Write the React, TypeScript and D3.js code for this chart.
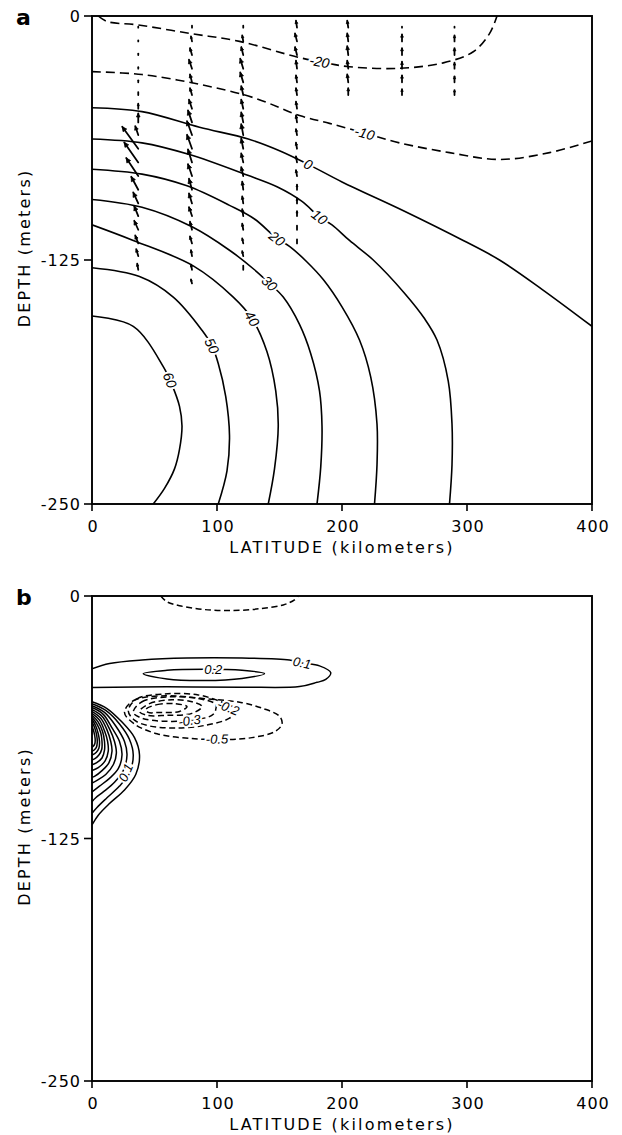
import React from "react";
import * as d3 from "d3";

type Pt = [number, number]; // [latitude km, depth m (negative)]

// ---------- axes ----------
const latTicks = [0, 100, 200, 300, 400];
const depthTicks = [0, -125, -250];

// ---------- panel a : contours ----------
const aM20: Pt[] = [[5, 0], [12, -2.8], [37, -4.6], [78, -8.9], [118, -13], [164, -21], [182, -23.4], [206, -26], [246, -26.8], [281, -24], [305, -18.3], [318, -9], [324, 0]];
const aM10: Pt[] = [[0, -28.5], [40, -30], [86, -35], [130, -42], [166, -51], [190, -55], [218, -60], [246, -65], [286, -70], [326, -73.5], [366, -70], [400, -64]];
const a0: Pt[] = [[0, -47], [40, -49], [86, -57], [125, -63], [150, -69], [173, -76], [200, -85], [250, -100], [297, -115], [326, -125], [360, -140], [400, -159]];
const a10: Pt[] = [[0, -63], [40, -65], [78, -71], [124, -81.5], [148, -87.5], [168, -95], [182, -103], [192, -107], [206, -115], [225, -125], [250, -142], [266, -155], [276, -166], [285, -187], [288, -209], [288, -230], [286, -250]];
const a20: Pt[] = [[0, -78.5], [40, -81], [76, -87], [110, -97], [130, -104], [148, -114], [158, -118], [172, -126], [185, -135], [200, -149], [214, -166], [223, -185], [228, -209], [228, -230], [226, -250]];
const a30: Pt[] = [[0, -94], [40, -98], [80, -108], [110, -120], [130, -130], [142, -137], [153, -144], [166, -158], [175, -173], [182, -192], [184, -210], [183, -231], [180, -250]];
const a40: Pt[] = [[0, -107], [33, -115], [81, -128], [113, -144], [128, -155], [140, -172], [147, -192], [149, -210], [146, -232], [141, -250]];
const a50: Pt[] = [[0, -129], [38, -133.5], [65, -144], [88, -161], [96, -169], [101, -178], [107, -195], [110, -215], [108, -233], [101, -250]];
const a60: Pt[] = [[0, -153.7], [33, -159], [57, -179.6], [64, -189], [70, -200], [72, -210], [70, -222], [66, -232], [58, -242], [49, -250]];

const aLines = [
  { pts: aM20, dashed: true, closed: false },
  { pts: aM10, dashed: true, closed: false },
  { pts: a0, dashed: false, closed: false },
  { pts: a10, dashed: false, closed: false },
  { pts: a20, dashed: false, closed: false },
  { pts: a30, dashed: false, closed: false },
  { pts: a40, dashed: false, closed: false },
  { pts: a50, dashed: false, closed: false },
  { pts: a60, dashed: false, closed: false },
];

const aLabels = [
  { text: "-20", at: [182, -23.4] as Pt, line: aM20 },
  { text: "-10", at: [218, -60] as Pt, line: aM10 },
  { text: "0", at: [173, -76] as Pt, line: a0 },
  { text: "10", at: [182, -103] as Pt, line: a10 },
  { text: "20", at: [148, -114] as Pt, line: a20 },
  { text: "30", at: [142, -137] as Pt, line: a30 },
  { text: "40", at: [128, -155] as Pt, line: a40 },
  { text: "50", at: [96, -169] as Pt, line: a50 },
  { text: "60", at: [62.4, -186.5] as Pt, line: a60 },
];

// ---------- panel a : velocity vectors (columns) ----------
const vecKm = [37, 80, 121, 164, 205, 248, 290];
const vecDepths = [-6, -13, -20, -27, -34, -40.5, -47.5, -54.5, -61, -68, -75, -82, -89, -96, -102.5, -109.5, -116.5, -123, -130, -137];
const vecCol1: Pt[] = [[0, 1], [0, 1], [0, 1.5], [0, 1.5], [0, 2], [0, 3], [0, 5], [0, 9], [-3, 9], [-16, 22], [-14, 20], [-12, 18], [-7, 13], [-5, 11], [-4, 10], [-4, 9], [-3, 8], [-2, 7], [-1, 6]];
const vecCol2: Pt[] = [[0, 2], [-1, 5], [-2, 7], [-3, 9], [-2, 8], [-2, 7], [-3, 9], [-4, 12], [-5, 14], [-5, 14], [-4, 13], [-4, 12], [-3, 11], [-3, 10], [-3, 9], [-2, 8], [-2, 7], [-1, 6], [-1, 5], [-1, 4]];
const vecCol3: Pt[] = [[0, 2], [-1, 6], [-2, 8], [-3, 10], [-3, 10], [-2, 9], [-2, 9], [-2, 10], [-2, 11], [-2, 10], [-2, 9], [-2, 9], [-1, 8], [-1, 7], [-1, 7], [-1, 6], [-1, 5], [-1, 5], [0, 4]];
const vecCol4: Pt[] = [[-1, 7], [-2, 8], [-2, 8], [-1, 8], [-1, 7], [-1, 7], [-1, 7], [-1, 7], [-1, 6], [-1, 6], [-1, 6], [-1, 6], [0, 5], [0, 5], [0, 5], [0, 4], [0, 4]];
const vecCol5: Pt[] = [[-1, 7], [-1, 8], [-1, 9], [-1, 8], [-1, 8], [0, 7]];
const vecCol6: Pt[] = [[0, 1], [0, 7], [0, 7], [0, 7], [0, 7], [0, 6]];
const vecCol7: Pt[] = [[0, 1], [0, 6], [0, 7], [0, 6], [0, 6], [0, 5]];
const vecCols = [vecCol1, vecCol2, vecCol3, vecCol4, vecCol5, vecCol6, vecCol7];

// ---------- panel b : contours ----------
const bTop: Pt[] = [[55, 0], [60, -3], [70, -5], [90, -7], [113, -7.5], [135, -6.5], [153, -4.6], [162, -2], [165, 0]];
const b01: Pt[] = [[0, -37.5], [14, -34.8], [40, -33], [76, -32], [120, -32], [158, -33], [168, -34.5], [182, -36], [191, -39.5], [187, -43], [180, -44.5], [166, -46.7], [120, -47], [60, -46.8], [0, -47.2]];
const b02: Pt[] = [[41, -40], [60, -38.3], [90, -37.8], [120, -38.3], [138, -40], [120, -42.5], [90, -43.6], [60, -42.8]];
const bN1: Pt[] = [[26, -60], [33, -54], [55, -51.5], [92, -53], [120, -55], [137, -58], [150, -62], [152, -66], [146, -70], [128, -73], [108, -74], [80, -73.5], [52, -71], [34, -66]];
const bN2: Pt[] = [[29, -59], [36, -53], [58, -50.5], [85, -51], [105, -55], [116, -59], [110, -63], [92, -66.5], [68, -68], [46, -67], [34, -64]];
const bN3: Pt[] = [[33, -60], [40, -54.5], [62, -52], [86, -53], [99, -56], [97, -61], [80, -64], [56, -64.5], [40, -63]];
const bN4: Pt[] = [[38, -59.5], [46, -55.5], [64, -53.5], [80, -54.5], [88, -57], [80, -60.5], [60, -61.5], [44, -61.5]];
const bN5: Pt[] = [[43, -58.5], [52, -56], [66, -55.5], [76, -57], [70, -59.5], [54, -60], [45, -60]];
const bB1: Pt[] = [[0, -54.5], [12, -58], [24, -65], [34, -73], [38, -82], [35, -92], [26, -100], [14, -107], [5, -113], [0, -118]];
const bB2: Pt[] = [[0, -55.5], [11, -59], [22, -66], [30, -74], [33, -82], [30, -91], [22, -98], [12, -104], [4, -109], [0, -112]];
const bB3: Pt[] = [[0, -56.5], [10, -60], [19, -67], [26, -75], [28, -82], [25, -90], [18, -96], [9, -101], [3, -104], [0, -106]];
const bB4: Pt[] = [[0, -57.5], [9, -61], [16, -68], [22, -75], [24, -82], [21, -89], [14, -94], [6, -98], [0, -101]];
const bB5: Pt[] = [[0, -58.5], [8, -62], [14, -68.5], [18, -75], [19.5, -81], [17, -87], [11, -92], [4, -95], [0, -96.5]];
const bB6: Pt[] = [[0, -59.5], [7, -63], [12, -69], [15, -75], [16, -80], [13.5, -86], [8, -90], [2, -93], [0, -93.5]];
const bB7: Pt[] = [[0, -60.5], [6, -64], [10, -69.5], [12.5, -75], [13, -80], [10.5, -85], [5, -88.5], [0, -90]];
const bB8: Pt[] = [[0, -61.5], [5, -65], [8.5, -70], [10, -75], [10, -79.5], [8, -83.5], [3.5, -86], [0, -87]];
const bB9: Pt[] = [[0, -62.5], [4, -66], [7, -70.5], [8, -75], [7.8, -79], [5.5, -82], [2, -84], [0, -84.5]];
const bB10: Pt[] = [[0, -63.5], [3, -67], [5, -71], [6, -75], [5.5, -78.5], [3.5, -80.5], [0, -82]];
const bB11: Pt[] = [[0, -65], [2.2, -68], [3.8, -72], [4.2, -75.5], [3.5, -78], [1.5, -79.5], [0, -80]];
const bB12: Pt[] = [[0, -67], [1.5, -70], [2.5, -73.5], [2.3, -76], [1, -77.5], [0, -78]];

const bLines = [
  { pts: bTop, dashed: true, closed: false },
  { pts: b01, dashed: false, closed: false },
  { pts: b02, dashed: false, closed: true },
  { pts: bN1, dashed: true, closed: true },
  { pts: bN2, dashed: true, closed: true },
  { pts: bN3, dashed: true, closed: true },
  { pts: bN4, dashed: true, closed: true },
  { pts: bN5, dashed: true, closed: true },
  ...[bB1, bB2, bB3, bB4, bB5, bB6, bB7, bB8, bB9, bB10, bB11, bB12].map((pts) => ({ pts, dashed: false, closed: false })),
];

const bLabels = [
  { text: "0.1", at: [168, -34.5] as Pt, line: b01 },
  { text: "0.2", at: [97, -37.9] as Pt, line: b02 },
  { text: "-0.2", at: [109, -57.5] as Pt, line: bN2 },
  { text: "-0.3", at: [78, -64.2] as Pt, line: bN3 },
  { text: "-0.5", at: [100, -73.8] as Pt, line: bN1 },
  { text: "0.1", at: [27, -91] as Pt, line: bB2 },
];

const X0 = 92;
const X1 = 592;
const tickFont = "'DejaVu Sans', 'Liberation Sans', sans-serif";
const labelFont = "'Liberation Sans', 'DejaVu Sans', sans-serif";

type LineDef = { pts: Pt[]; dashed: boolean; closed: boolean };
type LabelDef = { text: string; at: Pt; line: Pt[] };

function Panel(props: {
  id: string;
  y0: number;
  y1: number;
  letter: string;
  lines: LineDef[];
  labels: LabelDef[];
  dash: string;
  labelSize: number;
  lineWidth: number;
  vectors?: boolean;
}) {
  const { id, y0, y1, letter, lines, labels, dash, labelSize, lineWidth, vectors } = props;
  const x = d3.scaleLinear().domain([0, 400]).range([X0, X1]);
  const y = d3.scaleLinear().domain([0, -250]).range([y0, y1]);
  const vs = d3.scaleLinear().domain([0, 1]).range([0, 1]);
  const open = d3.line<Pt>().x((p) => x(p[0])).y((p) => y(p[1])).curve(d3.curveCatmullRom.alpha(0.5));
  const closedL = d3.line<Pt>().x((p) => x(p[0])).y((p) => y(p[1])).curve(d3.curveCatmullRomClosed.alpha(0.5));

  const angleFor = (lab: LabelDef) => {
    const pts = lab.line;
    let best = 0;
    let bd = Infinity;
    pts.forEach((p, i) => {
      const dd = (x(p[0]) - x(lab.at[0])) ** 2 + (y(p[1]) - y(lab.at[1])) ** 2;
      if (dd < bd) { bd = dd; best = i; }
    });
    const a = pts[Math.max(0, best - 1)];
    const b = pts[Math.min(pts.length - 1, best + 1)];
    let ang = (Math.atan2(y(b[1]) - y(a[1]), x(b[0]) - x(a[0])) * 180) / Math.PI;
    if (ang > 90) ang -= 180;
    if (ang < -90) ang += 180;
    return ang;
  };

  const mid = (y0 + y1) / 2;

  return (
    <g>
      <defs>
        <clipPath id={id}>
          <rect x={X0} y={y0} width={X1 - X0} height={y1 - y0} />
        </clipPath>
      </defs>
      <g clipPath={`url(#${id})`}>
        {lines.map((l, i) => (
          <path
            key={i}
            d={(l.closed ? closedL(l.pts) : open(l.pts)) || ""}
            fill="none"
            stroke="#000"
            strokeWidth={lineWidth}
            strokeDasharray={l.dashed ? dash : undefined}
          />
        ))}
        {vectors &&
          vecCols.map((col, ci) =>
            col.map((v, li) => {
              const tx = x(vecKm[ci]);
              const ty = y(vecDepths[li]);
              const hx = tx + vs(v[0]);
              const hy = ty - vs(v[1]);
              const len = Math.hypot(hx - tx, hy - ty);
              const ux = (hx - tx) / (len || 1);
              const uy = (hy - ty) / (len || 1);
              const hs = Math.min(4.5, len * 0.4);
              const head = `M${hx},${hy}L${hx - ux * hs + uy * hs * 0.5},${hy - uy * hs - ux * hs * 0.5}L${hx - ux * hs - uy * hs * 0.5},${hy - uy * hs + ux * hs * 0.5}Z`;
              return (
                <g key={`${ci}-${li}`}>
                  <line x1={tx} y1={ty} x2={hx} y2={hy} stroke="#000" strokeWidth={1.8} strokeLinecap="round" />
                  {len > 4 && <path d={head} fill="#000" stroke="#000" strokeWidth={0.8} />}
                </g>
              );
            })
          )}
        {labels.map((lab, i) => {
          const px = x(lab.at[0]);
          const py = y(lab.at[1]);
          return (
            <text
              key={i}
              x={px}
              y={py}
              transform={`rotate(${angleFor(lab)},${px},${py})`}
              textAnchor="middle"
              dominantBaseline="central"
              fontFamily={labelFont}
              fontStyle="italic"
              fontSize={labelSize}
              fill="#000"
              stroke="#fff"
              strokeWidth={4}
              paintOrder="stroke"
              style={{ paintOrder: "stroke" }}
            >
              {lab.text}
            </text>
          );
        })}
      </g>
      {/* frame */}
      <rect x={X0} y={y0} width={X1 - X0} height={y1 - y0} fill="none" stroke="#000" strokeWidth={1.9} />
      {/* y ticks */}
      {depthTicks.map((t) => (
        <g key={t}>
          <line x1={X0 - 8} x2={X0} y1={y(t)} y2={y(t)} stroke="#000" strokeWidth={1.6} />
          <text x={X0 - 11} y={y(t) + 6} textAnchor="end" fontFamily={tickFont} fontSize={16} letterSpacing={1}>
            {String(t)}
          </text>
        </g>
      ))}
      {/* x ticks */}
      {latTicks.map((t) => (
        <g key={t}>
          <line x1={x(t)} x2={x(t)} y1={y1} y2={y1 + 7} stroke="#000" strokeWidth={1.6} />
          <text x={x(t) + 1} y={y1 + 28} textAnchor="middle" fontFamily={tickFont} fontSize={16} letterSpacing={1}>
            {String(t)}
          </text>
        </g>
      ))}
      <text x={342} y={y1 + 49} textAnchor="middle" fontFamily={tickFont} fontSize={16} letterSpacing={2.2}>
        LATITUDE (kilometers)
      </text>
      <text
        x={24}
        y={mid - 12}
        transform={`rotate(-90,24,${mid - 12})`}
        textAnchor="middle"
        dominantBaseline="central"
        fontFamily={tickFont}
        fontSize={16}
        letterSpacing={2.2}
      >
        DEPTH (meters)
      </text>
      <text x={16} y={y0 + 9} fontFamily={tickFont} fontWeight="bold" fontSize={22}>
        {letter}
      </text>
    </g>
  );
}

export default function App() {
  return (
    <svg width={622} height={1135} viewBox="0 0 622 1135" style={{ display: "block", position: "absolute", left: 0, top: 0, background: "#fff" }}>
      <rect x={0} y={0} width={622} height={1135} fill="#fff" />
      <Panel id="clipA" y0={16} y1={504} letter="a" lines={aLines} labels={aLabels} dash="9 5" labelSize={14} lineWidth={1.6} vectors />
      <Panel id="clipB" y0={596} y1={1081} letter="b" lines={bLines} labels={bLabels} dash="6 3.5" labelSize={13} lineWidth={1.5} />
    </svg>
  );
}
